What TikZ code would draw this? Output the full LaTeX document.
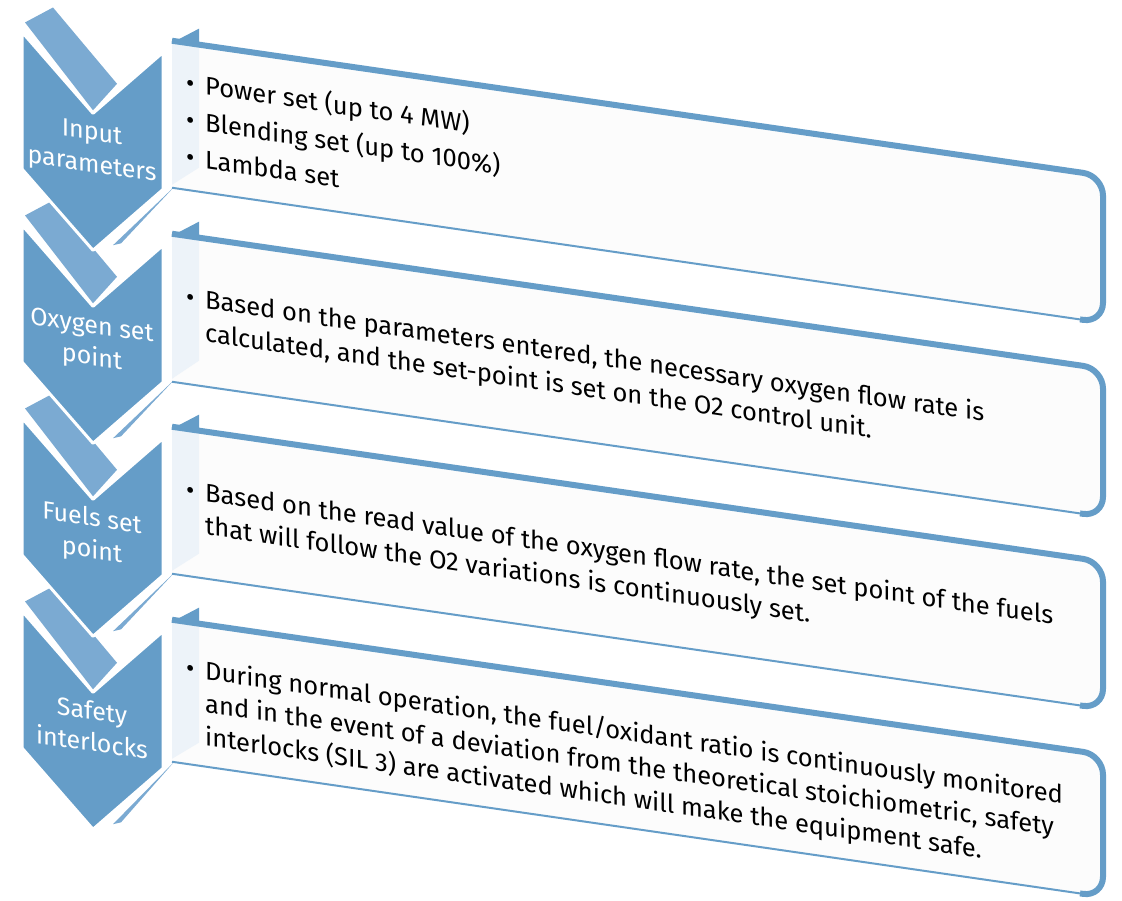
\documentclass[tikz,border=0pt]{standalone}
\usepackage{fontspec}
\setmainfont{Fira Sans}
\usepackage{tikz}

\definecolor{chevblue}{HTML}{659DC8}
\definecolor{bandblue}{HTML}{7BAAD2}
\definecolor{stripblue}{HTML}{EDF3F9}
\definecolor{facewhite}{HTML}{FCFCFC}
\newcommand{\bul}{\makebox[19pt][l]{\textbullet}}

\begin{document}
\begin{tikzpicture}[x=1pt, y=-1pt,
	chevbody/.style={fill=chevblue, draw=white, line width=3pt, line join=round},
	chevband/.style={fill=bandblue},
	chevwedge/.style={fill=bandblue},
	boxstrip/.style={fill=stripblue},
	boxface/.style={fill=facewhite},
	boxrim/.style={draw=chevblue, line width=2pt},
	boxrimthick/.style={draw=chevblue, line width=6pt},
	steplabel/.style={anchor=base, inner sep=0pt, text=white, font=\fontsize{25}{32}\selectfont},
	itemtext/.style={anchor=base west, inner sep=0pt, font=\fontsize{25.5}{33}\selectfont}]
\fill[white] (0,0) rectangle (1122,900);
\useasboundingbox (0,0) rectangle (1122,900);

\begin{scope}[cm={1,-0.145,0,1,(0pt,3.19pt)}, transform shape]
% bands on top of the chevrons
\fill[chevband] (25,22) -- (53,3) -- (117,70) -- (93,100) -- cycle;
\fill[chevband] (25,215) -- (53,196) -- (117,263) -- (93,293) -- cycle;
\fill[chevband] (25,408) -- (53,389) -- (117,456) -- (93,486) -- cycle;
\fill[chevband] (25,601) -- (53,582) -- (117,649) -- (93,679) -- cycle;
\fill[chevwedge] (174,165) -- (113,232) -- (121,229) -- cycle;
\fill[chevwedge] (174,358) -- (113,425) -- (121,422) -- cycle;
\fill[chevwedge] (174,551) -- (113,618) -- (121,615) -- cycle;
\fill[chevwedge] (174,740) -- (113,811) -- (121,808) -- cycle;

\draw[chevbody] (22,32) -- (93,103) -- (163,32) -- (163,169) -- (93,240) -- (22,169) -- cycle;
\draw[chevbody] (22,225) -- (93,296) -- (163,225) -- (163,362) -- (93,433) -- (22,362) -- cycle;
\draw[chevbody] (22,418) -- (93,489) -- (163,418) -- (163,555) -- (93,626) -- (22,555) -- cycle;
\draw[chevbody] (22,611) -- (93,682) -- (163,611) -- (163,748) -- (93,819) -- (22,748) -- cycle;

% text boxes
\fill[boxface] (172,19) -- (1000,19) [rounded corners=20pt] -- (1103,19) -- (1103,166) -- (1000,166) [sharp corners] -- (172,166) -- cycle;
\fill[boxface] (172,212) -- (1000,212) [rounded corners=20pt] -- (1103,212) -- (1103,360) -- (1000,360) [sharp corners] -- (172,360) -- cycle;
\fill[boxface] (172,405) -- (1000,405) [rounded corners=20pt] -- (1103,405) -- (1103,552) -- (1000,552) [sharp corners] -- (172,552) -- cycle;
\fill[boxface] (172,598) -- (1000,598) [rounded corners=20pt] -- (1103,598) -- (1103,740) -- (1000,740) [sharp corners] -- (172,740) -- cycle;

\fill[boxstrip] (172,21) -- (199,19) -- (199,142) -- (172,163) -- cycle;
\fill[boxstrip] (172,214) -- (199,212) -- (199,335) -- (172,357) -- cycle;
\fill[boxstrip] (172,407) -- (199,405) -- (199,528) -- (172,549) -- cycle;
\fill[boxstrip] (172,600) -- (199,598) -- (199,717) -- (172,737) -- cycle;

\fill[chevblue] (172,21) -- (199,3) -- (199,19) -- cycle;
\fill[chevblue] (172,214) -- (199,196) -- (199,212) -- cycle;
\fill[chevblue] (172,407) -- (199,389) -- (199,405) -- cycle;
\fill[chevblue] (172,600) -- (199,582) -- (199,598) -- cycle;

\draw[boxrim] (172,19) -- (1000,19) [rounded corners=20pt] -- (1103,19) -- (1103,166) -- (1000,166) [sharp corners] -- (172,166);
\draw[boxrim] (172,212) -- (1000,212) [rounded corners=20pt] -- (1103,212) -- (1103,360) -- (1000,360) [sharp corners] -- (172,360);
\draw[boxrim] (172,405) -- (1000,405) [rounded corners=20pt] -- (1103,405) -- (1103,552) -- (1000,552) [sharp corners] -- (172,552);
\draw[boxrim] (172,598) -- (1000,598) [rounded corners=20pt] -- (1103,598) -- (1103,740) -- (1000,740) [sharp corners] -- (172,740);
\draw[boxrimthick] (172,19) -- (1000,19) [rounded corners=20pt] -- (1103,19) -- (1103,166) -- (1080,166);
\draw[boxrimthick] (172,212) -- (1000,212) [rounded corners=20pt] -- (1103,212) -- (1103,360) -- (1080,360);
\draw[boxrimthick] (172,405) -- (1000,405) [rounded corners=20pt] -- (1103,405) -- (1103,552) -- (1080,552);
\draw[boxrimthick] (172,598) -- (1000,598) [rounded corners=20pt] -- (1103,598) -- (1103,740) -- (1080,740);

% labels
\node[steplabel] (lbl1) at (92,130) {\begin{tabular}[t]{@{}c@{}}Input\\ parameters\end{tabular}};
\node[steplabel] (lbl2) at (92,323) {\begin{tabular}[t]{@{}c@{}}Oxygen set\\ point\end{tabular}};
\node[steplabel] (lbl3) at (92,516) {\begin{tabular}[t]{@{}c@{}}Fuels set\\ point\end{tabular}};
\node[steplabel] (lbl4) at (92,709) {\begin{tabular}[t]{@{}c@{}}Safety\\ interlocks\end{tabular}};

\node[itemtext, font=\fontsize{25.5}{37}\selectfont] (txt1) at (186,68) {\begin{tabular}[t]{@{}l@{}l@{}}
	\bul & Power set (up to 4 MW)\\
	\bul & Blending set (up to 100\%)\\
	\bul & Lambda set\end{tabular}};
\node[itemtext] (txt2) at (186,282) {\begin{tabular}[t]{@{}l@{}l@{}}
	\bul & Based on the parameters entered, the necessary oxygen flow rate is\\
	& calculated, and the set-point is set on the O2 control unit.\end{tabular}};
\node[itemtext] (txt3) at (186,475) {\begin{tabular}[t]{@{}l@{}l@{}}
	\bul & Based on the read value of the oxygen flow rate, the set point of the fuels\\
	& that will follow the O2 variations is continuously set.\end{tabular}};
\node[itemtext] (txt4) at (186,653) {\begin{tabular}[t]{@{}l@{}l@{}}
	\bul & During normal operation, the fuel/oxidant ratio is continuously monitored\\
	& and in the event of a deviation from the theoretical stoichiometric, safety\\
	& interlocks (SIL 3) are activated which will make the equipment safe.\end{tabular}};
\end{scope}
\end{tikzpicture}
\end{document}
